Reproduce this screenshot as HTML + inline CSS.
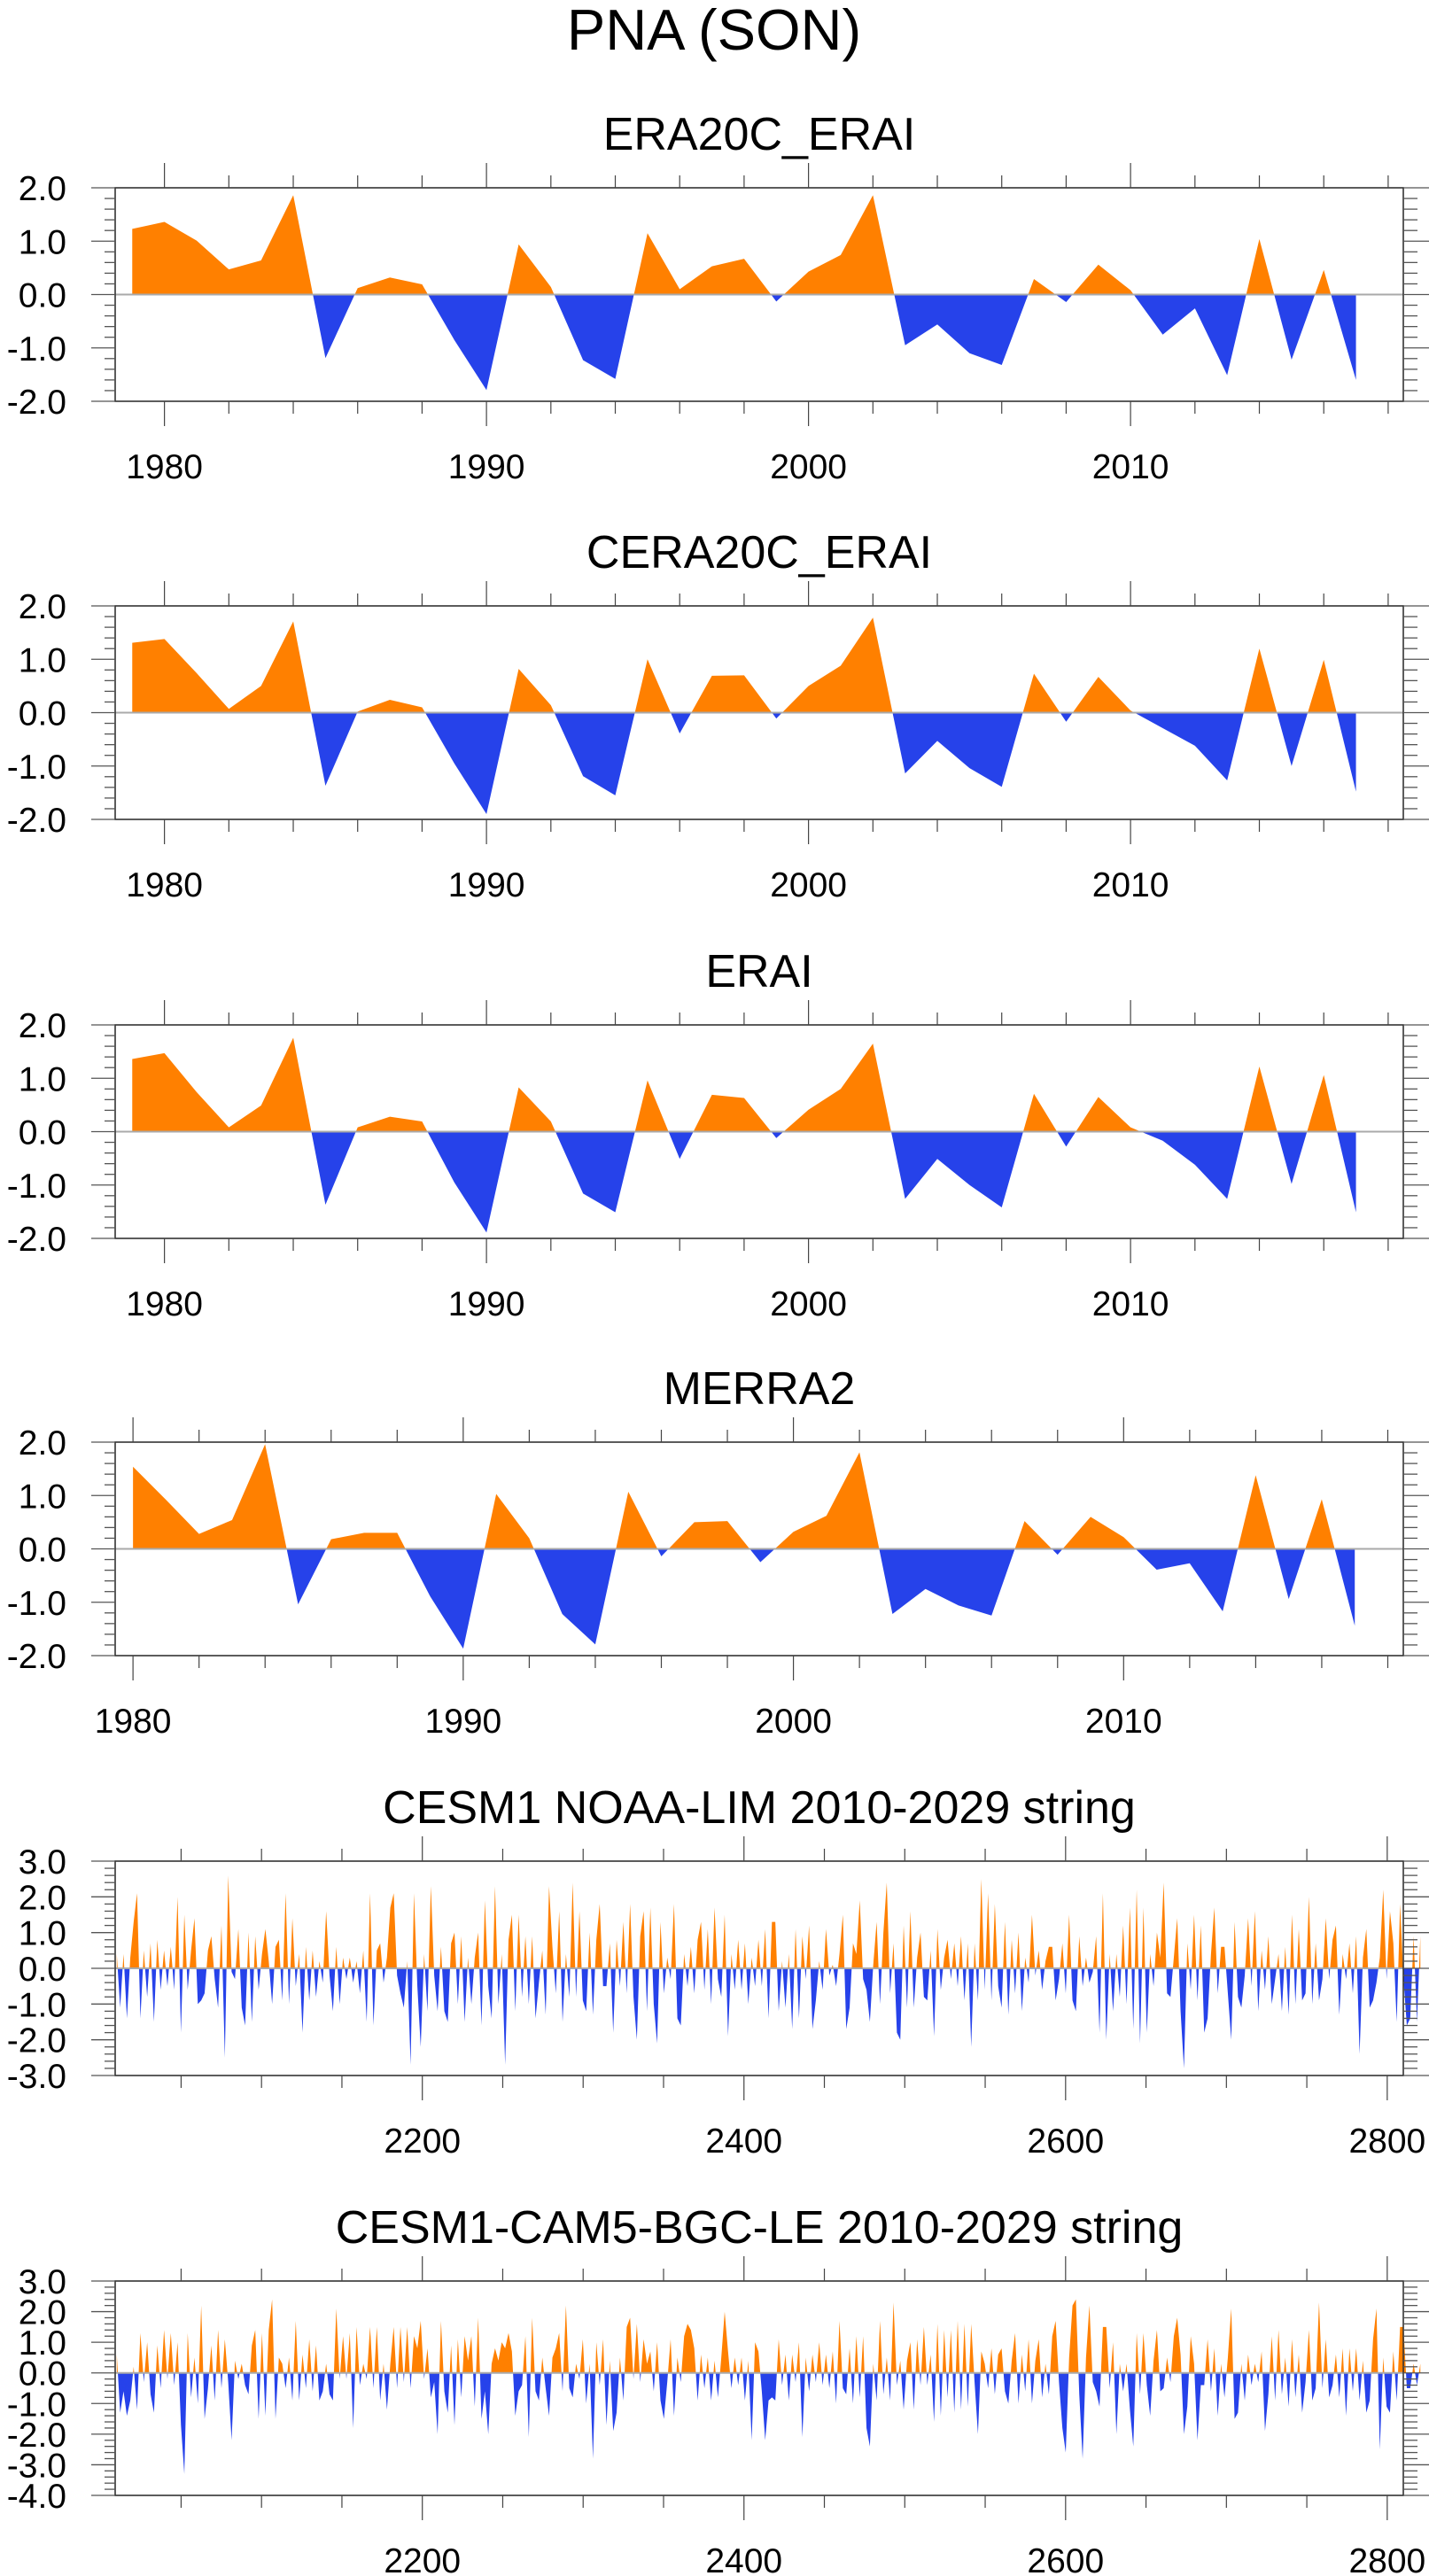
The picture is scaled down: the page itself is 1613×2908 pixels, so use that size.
<!DOCTYPE html>
<html><head><meta charset="utf-8"><title>PNA (SON)</title>
<style>
html,body{margin:0;padding:0;background:#fff;}
svg{display:block;font-family:"Liberation Sans",Arial,sans-serif;}
</style></head>
<body>
<svg id="fig" width="1613" height="2908" viewBox="0 0 1613 2908" xmlns="http://www.w3.org/2000/svg">
<text x="806" y="56" font-size="65" text-anchor="middle" fill="#000">PNA (SON)</text>
</svg>
<script>
const yearsA = [1979,1980,1981,1982,1983,1984,1985,1986,1987,1988,1989,1990,1991,1992,1993,1994,1995,1996,1997,1998,1999,2000,2001,2002,2003,2004,2005,2006,2007,2008,2009,2010,2011,2012,2013,2014,2015,2016,2017];
const yearsM = [1980,1981,1982,1983,1984,1985,1986,1987,1988,1989,1990,1991,1992,1993,1994,1995,1996,1997,1998,1999,2000,2001,2002,2003,2004,2005,2006,2007,2008,2009,2010,2011,2012,2013,2014,2015,2016,2017];
const era20c = [1.23,1.36,1.01,0.47,0.64,1.86,-1.19,0.12,0.32,0.19,-0.85,-1.79,0.94,0.14,-1.23,-1.58,1.15,0.10,0.53,0.67,-0.13,0.43,0.74,1.86,-0.95,-0.56,-1.10,-1.32,0.29,-0.14,0.56,0.08,-0.75,-0.26,-1.51,1.04,-1.22,0.46,-1.60];
const cera20c = [1.31,1.38,0.74,0.07,0.50,1.71,-1.37,0.02,0.24,0.10,-0.95,-1.90,0.82,0.14,-1.19,-1.55,1.00,-0.39,0.69,0.70,-0.11,0.50,0.88,1.78,-1.14,-0.53,-1.04,-1.39,0.73,-0.17,0.67,0.04,-0.29,-0.62,-1.27,1.20,-1.00,0.99,-1.48];
const erai = [1.36,1.47,0.74,0.08,0.49,1.76,-1.37,0.08,0.28,0.19,-0.95,-1.89,0.83,0.19,-1.16,-1.51,0.96,-0.51,0.69,0.63,-0.12,0.41,0.80,1.65,-1.26,-0.51,-1.00,-1.42,0.71,-0.28,0.65,0.08,-0.17,-0.62,-1.26,1.22,-0.98,1.06,-1.51];
const merra2 = [1.54,0.92,0.28,0.54,1.96,-1.04,0.18,0.30,0.30,-0.89,-1.87,1.03,0.20,-1.22,-1.79,1.07,-0.14,0.50,0.52,-0.25,0.32,0.62,1.81,-1.22,-0.75,-1.06,-1.25,0.52,-0.11,0.60,0.22,-0.39,-0.27,-1.17,1.38,-0.94,0.93,-1.44];
const yTicksA = ["-2.0","-1.0","0.0","1.0","2.0"];
const xTicksA = ["1980","1990","2000","2010"];
const yTicksB = ["-3.0","-2.0","-1.0","0.0","1.0","2.0","3.0"];
const yTicksC = ["-4.0","-3.0","-2.0","-1.0","0.0","1.0","2.0","3.0"];
const xTicksB = ["2200","2400","2600","2800"];
const strStart = 2010;
const strStep = 2.1;
const noaaLim = [0.4,-1.1,0.4,-1.4,0.3,1.3,2.1,-1.4,0.5,-0.8,0.7,-1.5,0.8,-0.6,0.5,-0.5,0.6,-0.6,2.0,-1.8,1.5,-0.6,0.5,1.4,-1.0,-0.9,-0.7,0.5,0.9,-0.3,-1.1,1.2,-2.5,2.6,-0.1,-0.3,1.1,-1.1,-1.6,1.0,-1.5,0.9,-0.6,0.4,1.1,0.2,-1.0,0.6,0.8,-0.9,2.1,-1.0,1.4,-0.5,0.4,-1.8,0.6,-0.9,0.5,-0.8,0.2,-0.4,1.6,-0.2,-1.2,0.6,-1.0,0.3,-0.3,0.3,-0.4,0.2,-0.7,0.5,-1.5,2.1,-1.6,0.5,0.7,-0.4,0.3,1.7,2.1,-0.2,-0.7,-1.1,0.2,-2.7,2.1,-0.5,-2.2,0.4,-1.2,2.3,-0.2,-1.2,0.6,-1.2,-1.5,0.7,1.0,-1.0,0.9,-1.5,0.3,-1.0,0.3,1.0,-1.6,1.9,-0.5,-1.4,2.3,-1.0,0.4,-2.7,0.8,1.5,-1.2,1.5,-0.8,0.9,-1.0,0.9,-1.4,-0.4,0.5,-1.3,2.3,0.6,-0.7,1.6,-1.5,0.4,-0.8,2.4,-0.8,1.6,-0.9,-1.2,1.0,-1.3,0.8,1.8,-0.5,-0.5,0.7,-1.8,0.8,-0.5,1.3,-0.7,1.8,-0.8,-2.0,0.9,1.6,-1.2,1.7,-1.0,-2.1,1.3,-0.7,0.3,-0.3,1.8,-1.4,-1.6,0.4,-0.5,0.6,-0.7,0.8,1.3,-0.6,1.1,-1.0,1.7,-0.3,-0.8,1.5,-1.9,0.4,-0.6,0.8,-0.6,0.7,-1.0,0.3,-0.5,0.8,-0.5,1.1,-1.4,1.3,
1.3,-1.2,0.2,-1.1,0.4,-1.7,1.1,-1.4,0.9,-0.3,1.2,-1.7,-0.9,0.2,-0.6,1.1,-0.2,0.1,-0.5,0.4,1.5,-1.7,-1.1,0.7,0.4,1.9,-0.3,-0.6,-1.5,0.1,1.3,-1.0,1.0,2.4,-0.7,0.7,-1.8,-2.0,1.2,-1.1,1.6,-1.1,0.3,1.0,-0.8,-0.9,0.5,-1.9,1.1,-0.6,0.3,0.8,-0.3,0.7,-0.5,0.9,-0.9,0.7,-2.2,0.7,-0.9,2.5,-0.6,2.1,-0.9,1.8,-0.5,-1.1,1.3,-1.3,0.8,-0.7,1.0,-1.2,0.3,-0.4,1.5,-0.2,0.5,-0.6,0.2,0.6,0.6,-0.9,-0.3,0.7,-0.7,1.5,-0.9,-1.2,0.9,-0.5,0.3,-0.4,-0.1,0.9,-1.8,2.1,-2.0,0.4,-1.2,0.4,-0.8,1.2,-1.0,1.7,-1.7,2.2,-2.1,1.7,-1.8,0.4,-0.5,1.0,0.3,2.4,-0.7,-0.8,0.3,1.4,-1.2,-2.8,0.7,-0.6,1.5,-0.9,1.2,-1.8,-1.4,0.4,1.7,-0.7,0.6,0.6,-0.7,-2.0,1.3,-0.8,-1.1,-0.2,1.4,-0.5,1.6,-1.2,0.5,-0.6,0.9,-1.0,-0.3,0.4,-1.2,0.6,-1.3,1.5,-1.0,1.1,-0.9,-0.7,2.0,-1.0,0.7,-0.9,-0.3,1.4,-0.3,0.8,1.2,-1.3,0.4,-0.3,0.7,-0.7,0.9,-2.4,0.3,1.1,-1.1,-0.9,-0.4,0.3,2.2,-0.3,1.6,0.7,-1.5,1.8,-0.3,-1.6,-1.4,0.9,-1.5,0.9];
const bgcLe = [0.6,-1.3,-0.6,-1.4,-0.9,0.2,-1.2,1.3,-0.3,1.0,-0.7,-1.3,0.9,-0.5,1.4,-0.2,1.3,-0.4,1.0,-1.7,-3.3,1.3,-0.8,0.5,-1.0,2.2,-1.5,-0.5,0.9,-0.9,1.4,-0.5,1.1,-0.3,-2.2,0.4,-0.2,0.3,-0.4,-0.7,0.9,1.4,-1.5,1.3,-1.4,1.4,2.4,-1.5,0.5,0.3,-0.5,0.5,-0.9,1.7,-0.9,0.6,-0.5,1.1,-0.6,0.9,-0.9,-0.6,0.3,-0.7,-0.9,2.1,-0.2,1.2,-0.2,1.3,-1.8,1.5,-0.4,0.3,-0.2,1.5,-0.5,1.5,-0.9,0.3,-1.2,0.3,1.5,-0.5,1.5,-0.3,1.5,-0.5,1.2,0.8,1.7,-0.2,0.8,-0.8,-0.3,-2.0,1.7,-0.6,-1.3,0.9,-1.7,1.1,-0.8,1.2,0.4,1.2,-1.1,1.8,-1.5,-0.6,-2.0,0.3,0.8,0.4,1.0,0.8,1.3,0.7,-1.4,-0.6,-0.4,1.2,-2.1,1.8,-0.6,-0.9,0.5,-0.5,-1.4,0.5,0.8,1.3,-0.6,2.2,-0.5,-0.8,0.3,-0.2,1.1,-1.0,0.3,-2.8,1.0,-0.4,1.1,-1.7,0.4,-1.9,-1.3,0.5,-0.9,1.5,1.8,-0.2,1.6,-0.3,1.1,0.3,0.7,-0.6,1.0,-0.9,-1.5,-0.3,1.1,-1.4,0.5,-0.3,1.2,1.6,1.4,0.8,-0.9,0.6,-0.5,0.5,-0.9,0.4,-0.8,0.5,2.0,0.7,-0.5,0.5,-0.4,0.5,-0.9,0.4,-2.2,1.0,0.7,-0.6,-2.2,-0.9,-0.8,
-0.9,1.1,-0.4,0.6,-0.9,0.6,-0.3,1.0,-2.1,0.5,-0.6,0.6,-0.3,1.0,-0.4,0.6,-0.5,0.7,-1.0,1.7,-0.5,-0.7,0.8,-1.0,1.2,-0.8,1.2,-1.8,-2.4,0.3,-0.9,1.7,-0.7,0.5,-0.9,2.3,-0.4,0.4,-1.2,0.4,1.0,-1.2,1.1,-0.4,1.5,-0.4,0.6,-1.6,1.6,-1.4,1.4,-0.8,1.4,-1.3,1.7,-1.2,1.6,-1.1,1.6,-0.3,-2.0,0.7,0.3,-0.5,0.8,-0.7,0.6,0.8,-0.6,-1.0,0.4,1.3,-1.0,0.6,-0.6,1.1,-1.0,0.4,1.1,-0.8,0.3,-0.7,1.2,1.7,-0.3,-1.8,-2.6,0.5,2.2,2.4,-0.7,-2.8,0.5,2.2,-0.3,-0.6,-1.1,1.5,1.5,-0.5,1.0,-2.0,0.3,-0.6,0.3,-1.2,-2.4,1.3,-0.7,1.3,-0.4,-1.4,0.4,1.4,-0.6,-0.5,0.5,-0.3,1.2,1.8,0.6,-2.0,-1.1,1.2,0.3,-2.2,-0.4,-0.4,1.1,-0.6,0.8,-1.4,0.3,-0.8,0.5,2.1,-1.5,-1.3,0.3,-0.9,0.6,-0.4,0.3,-0.3,0.7,-1.9,-0.7,1.2,-0.9,1.4,-0.7,0.5,-1.1,1.1,-0.8,0.6,-1.3,-0.3,1.4,-0.9,-0.5,2.3,-0.5,1.1,-0.8,-0.4,0.6,-0.8,0.8,-1.4,0.8,-0.6,0.8,-0.9,0.4,-1.3,-0.9,1.1,2.1,-2.5,0.5,-1.1,-1.3,0.7,-0.9,1.5,1.5,-0.5,-0.5,0.3,-0.4,0.3];

const NS = "http://www.w3.org/2000/svg";
const svg = document.getElementById('fig');
const ORANGE = "#ff8000", BLUE = "#2642ea";
const FL = 130, FR = 1584;

function mk(tag, attrs, parent) {
  const e = document.createElementNS(NS, tag);
  for (const k in attrs) e.setAttribute(k, attrs[k]);
  (parent || svg).appendChild(e);
  return e;
}

function panel(cfg) {
  const g = mk('g', {});
  
  
  const sx = v => FL + (v - cfg.xmin) / (cfg.xmax - cfg.xmin) * (FR - FL);
  const sy = v => cfg.bottom - (v - cfg.ymin) / (cfg.ymax - cfg.ymin) * (cfg.bottom - cfg.top);
  const t = mk('text', {x: 857, y: cfg.top - 62 + 19, 'font-size': 52, 'text-anchor': 'middle', fill: '#000'}, g);
  t.textContent = cfg.title;
  
  
  // area fills
  const xs = cfg.xs, ys = cfg.ys;
  const pts = [];
  for (let i = 0; i < xs.length; i++) {
    pts.push([xs[i], ys[i]]);
    if (i < xs.length - 1 && ys[i] * ys[i + 1] < 0) {
      const f = ys[i] / (ys[i] - ys[i + 1]);
      pts.push([xs[i] + f * (xs[i + 1] - xs[i]), 0]);
    }
  }
  const z = sy(0);
  let dp = 'M' + sx(pts[0][0]).toFixed(2) + ',' + z;
  let dn = dp;
  for (const p of pts) {
    dp += 'L' + sx(p[0]).toFixed(2) + ',' + sy(Math.max(p[1], 0)).toFixed(2);
    dn += 'L' + sx(p[0]).toFixed(2) + ',' + sy(Math.min(p[1], 0)).toFixed(2);
  }
  const xe = sx(pts[pts.length - 1][0]).toFixed(2);
  dp += 'L' + xe + ',' + z + 'Z';
  dn += 'L' + xe + ',' + z + 'Z';
  const pa = mk('path', {d: dp, fill: ORANGE}, g);
  
  
  const na = mk('path', {d: dn, fill: BLUE}, g);
  
  
  const zl = mk('line', {x1: FL, x2: FR, y1: z, y2: z, stroke: '#aaa', 'stroke-width': 2}, g);
  
  
  // frame
  const fr = mk('rect', {x: FL, y: cfg.top, width: FR - FL, height: cfg.bottom - cfg.top, fill: 'none', stroke: '#333', 'stroke-width': 1.6}, g);
  
  
  // x ticks
  for (let v = cfg.xMinorStart; v <= cfg.xmax; v += cfg.xMinorStep) {
    const X = sx(v);
    const major = cfg.xMajor.indexOf(String(v)) >= 0 || (cfg.xMajorEvery && v % cfg.xMajorEvery === 0);
    const L = major ? 28 : 14;
    mk('line', {x1: X, x2: X, y1: cfg.top, y2: cfg.top - L, stroke: '#444', 'stroke-width': 1.2}, g);
    mk('line', {x1: X, x2: X, y1: cfg.bottom, y2: cfg.bottom + L, stroke: '#444', 'stroke-width': 1.2}, g);
  }
  for (const lab of cfg.xMajor) {
    const tx = mk('text', {x: sx(+lab), y: cfg.bottom + 87, 'font-size': 39, 'text-anchor': 'middle', fill: '#000'}, g);
    tx.textContent = lab;
    
    
  }
  // y ticks
  for (let k = Math.round(cfg.ymin * 5); k <= Math.round(cfg.ymax * 5); k++) {
    const Y = sy(k / 5);
    const major = k % 5 === 0;
    mk('line', {x1: FL, x2: FL - (major ? 27 : 12), y1: Y, y2: Y, stroke: '#555', 'stroke-width': 1.3}, g);
    mk('line', {x1: FR, x2: FR + (major ? 29 : 16), y1: Y, y2: Y, stroke: '#555', 'stroke-width': 1.3}, g);
  }
  for (const lab of cfg.yLabels) {
    const ty = mk('text', {x: 75, y: sy(+lab) + 14, 'font-size': 39, 'text-anchor': 'end', fill: '#000'}, g);
    ty.textContent = lab;
    
    
  }
}

const strX1 = noaaLim.map((v, i) => strStart + i * strStep);
const strX2 = bgcLe.map((v, i) => strStart + i * strStep);

panel({name: 'panel-era20c-erai', title: 'ERA20C_ERAI', top: 212, bottom: 453, xmin: 1978.47, xmax: 2018.47, ymin: -2, ymax: 2, xs: yearsA, ys: era20c, xMajor: xTicksA, xMinorStart: 1980, xMinorStep: 2, yLabels: yTicksA});
panel({name: 'panel-cera20c-erai', title: 'CERA20C_ERAI', top: 684, bottom: 925, xmin: 1978.47, xmax: 2018.47, ymin: -2, ymax: 2, xs: yearsA, ys: cera20c, xMajor: xTicksA, xMinorStart: 1980, xMinorStep: 2, yLabels: yTicksA});
panel({name: 'panel-erai', title: 'ERAI', top: 1157, bottom: 1398, xmin: 1978.47, xmax: 2018.47, ymin: -2, ymax: 2, xs: yearsA, ys: erai, xMajor: xTicksA, xMinorStart: 1980, xMinorStep: 2, yLabels: yTicksA});
panel({name: 'panel-merra2', title: 'MERRA2', top: 1628, bottom: 1869, xmin: 1979.46, xmax: 2018.47, ymin: -2, ymax: 2, xs: yearsM, ys: merra2, xMajor: xTicksA, xMinorStart: 1980, xMinorStep: 2, yLabels: yTicksA});
panel({name: 'panel-cesm1-noaa-lim', title: 'CESM1 NOAA-LIM 2010-2029 string', top: 2101, bottom: 2343, xmin: 2009, xmax: 2810, ymin: -3, ymax: 3, xs: strX1, ys: noaaLim, xMajor: xTicksB, xMinorStart: 2050, xMinorStep: 50, yLabels: yTicksB});
panel({name: 'panel-cesm1-cam5-bgc-le', title: 'CESM1-CAM5-BGC-LE 2010-2029 string', top: 2575, bottom: 2817, xmin: 2009, xmax: 2810, ymin: -4, ymax: 3, xs: strX2, ys: bgcLe, xMajor: xTicksB, xMinorStart: 2050, xMinorStep: 50, yLabels: yTicksC});
</script>
</body></html>
